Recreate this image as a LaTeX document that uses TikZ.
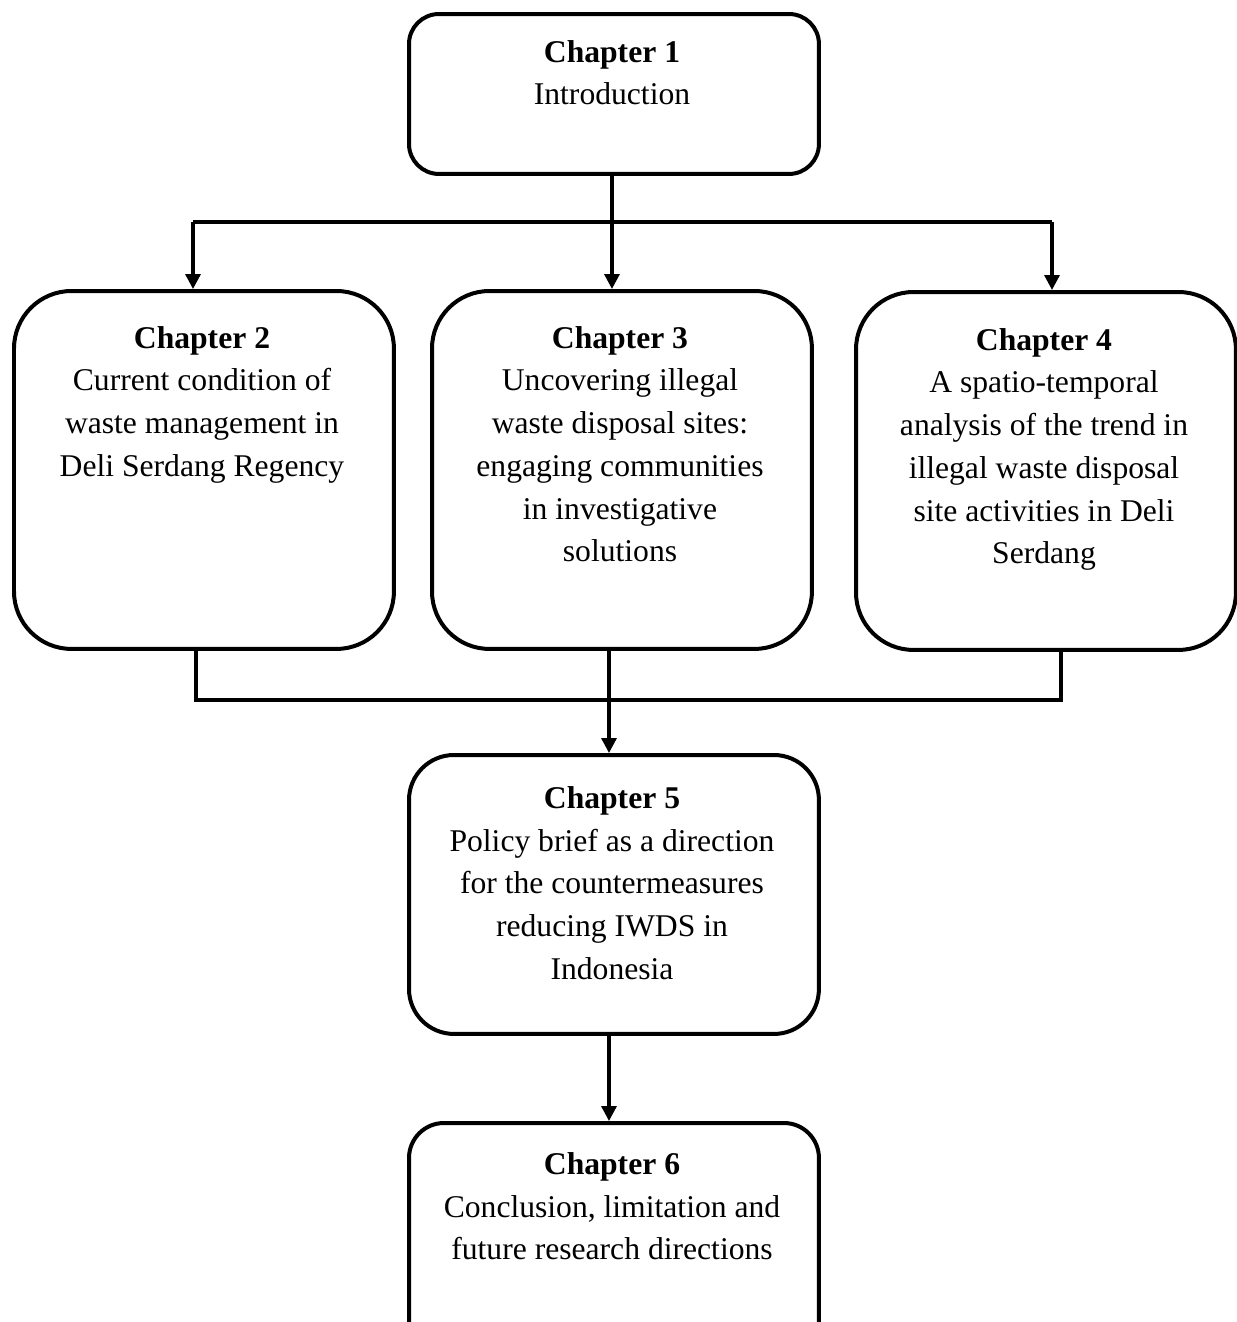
\documentclass[tikz,border=0pt]{standalone}
\usepackage{fontspec}
\setmainfont{Liberation Serif}
\usetikzlibrary{arrows.meta}
\begin{document}
\begin{tikzpicture}[x=0.02cm,y=-0.02cm,
  box/.style={draw,line width=0.08cm,rectangle,inner sep=0pt,anchor=north west},
  txt/.style={anchor=north,align=center,inner sep=0pt,font=\fontsize{18}{24.3}\selectfont},
  conn/.style={line width=0.065cm},
  arr/.style={conn,-{Triangle[width=0.3cm,length=0.3cm]}}]
\useasboundingbox (0,0) rectangle (1237,1322);
\clip (0,0) rectangle (1237,1322);
% boxes
\node[box,rounded corners=0.6cm,minimum width=8.2cm,minimum height=3.2cm] (c1) at (407,12) {};
\node[box,rounded corners=1.15cm,minimum width=7.6cm,minimum height=7.16cm] (c2) at (12,289) {};
\node[box,rounded corners=1.15cm,minimum width=7.6cm,minimum height=7.16cm] (c3) at (430,289) {};
\node[box,rounded corners=1.15cm,minimum width=7.6cm,minimum height=7.16cm] (c4) at (854,290) {};
\node[box,rounded corners=0.9cm,minimum width=8.2cm,minimum height=5.58cm] (c5) at (407,753) {};
\node[box,rounded corners=0.7cm,minimum width=8.2cm,minimum height=4.8cm] (c6) at (407,1121) {};
% texts
\node[txt] (t1) at (612,40) {\textbf{Chapter 1}\\Introduction};
\node[txt] (t2) at (202,326) {\textbf{Chapter 2}\\Current condition of\\waste management in\\Deli Serdang Regency};
\node[txt] (t3) at (620,326) {\textbf{Chapter 3}\\Uncovering illegal\\waste disposal sites:\\engaging communities\\in investigative\\solutions};
\node[txt] (t4) at (1044,328) {\textbf{Chapter 4}\\A spatio-temporal\\analysis of the trend in\\illegal waste disposal\\site activities in Deli\\Serdang};
\node[txt] (t5) at (612,786) {\textbf{Chapter 5}\\Policy brief as a direction\\for the countermeasures\\reducing IWDS in\\Indonesia};
\node[txt] (t6) at (612,1152) {\textbf{Chapter 6}\\Conclusion, limitation and\\future research directions};
% connectors
\coordinate (bl) at (193,222);
\coordinate (br) at (1052,222);
\coordinate (ml) at (196,700);
\coordinate (mr) at (1061,700);
\coordinate (mx) at (609,700);
\draw[arr] (c1.south) ++(-2,0) coordinate (s1) -- (s1 |- c3.north);
\draw[conn] (bl) -- (br);
\draw[arr] (bl) -- (bl |- c2.north);
\draw[arr] (br) -- (br |- c4.north);
\draw[conn] (ml |- c2.south) -- (ml) -- (mr) -- (mr |- c4.south);
\draw[arr] (mx |- c3.south) -- (mx |- c5.north);
\draw[arr] (mx |- c5.south) -- (mx |- c6.north);
\end{tikzpicture}
\end{document}
